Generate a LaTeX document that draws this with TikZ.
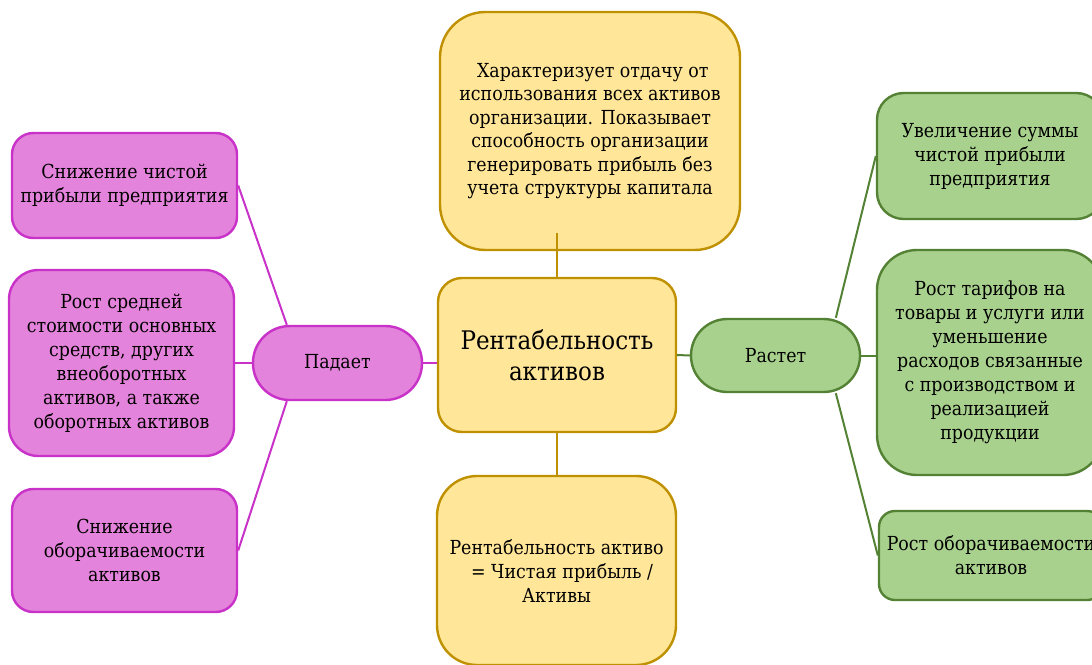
\documentclass[tikz,border=0pt]{standalone}
\usepackage{fontspec}
\IfFontExistsTF{DejaVu Serif Condensed}
  {\setmainfont{DejaVu Serif Condensed}\def\fs{14.5}\def\fc{19.2}}
  {\setmainfont{DejaVu Serif}\def\fs{13.5}\def\fc{18}}
\definecolor{pinkfill}{RGB}{228,131,219}
\definecolor{pinkline}{RGB}{200,50,200}
\definecolor{yelfill}{RGB}{255,230,153}
\definecolor{yelline}{RGB}{191,144,0}
\definecolor{grnfill}{RGB}{169,209,142}
\definecolor{grnline}{RGB}{84,130,53}
\begin{document}
\begin{tikzpicture}[x=0.75pt,y=-0.75pt,
  box/.style={draw, line width=1.8pt, align=center, inner sep=0pt,
    font=\rmfamily\fontsize{\fs}{18}\selectfont},
  pinkbox/.style={box, fill=pinkfill, draw=pinkline},
  yelbox/.style={box, fill=yelfill, draw=yelline},
  grnbox/.style={box, fill=grnfill, draw=grnline},
  pinkline/.style={draw=pinkline, line width=1.5pt},
  yelline/.style={draw=yelline, line width=1.5pt},
  grnline/.style={draw=grnline, line width=1.5pt}]
\useasboundingbox (0,0) rectangle (1092,664);
% left
\node[pinkbox, minimum width=168.75pt, minimum height=78.75pt, rounded corners=16pt] (l1) at (124.5,185.5) {Снижение чистой\\прибыли предприятия};
\node[pinkbox, minimum width=168.75pt, minimum height=139.5pt, rounded corners=22pt] (l2) at (121.5,363) {Рост средней\\стоимости основных\\средств, других\\внеоборотных\\активов, а также\\оборотных активов};
\node[pinkbox, minimum width=168.75pt, minimum height=92.25pt, rounded corners=16pt] (l3) at (124.5,550.5) {Снижение\\оборачиваемости\\активов};
\node[pinkbox, minimum width=126.75pt, minimum height=55.5pt, rounded corners=27.5pt] (pad) at (337.5,363) {Падает};
% center
\node[yelbox, minimum width=178.5pt, minimum height=115.5pt, rounded corners=18pt, font=\rmfamily\fontsize{\fc}{23.5}\selectfont] (ctr) at (557,355) {Рентабельность\\активов};
\node[yelbox, minimum width=225pt, minimum height=178.5pt, rounded corners=34pt, font=\rmfamily\fontsize{\fs}{17.6}\selectfont] (top) at (590,131) {\ Характеризует отдачу от\\использования всех активов\\организации. Показывает\\способность организации\\генерировать прибыль без\\учета структуры капитала};
\node[yelbox, minimum width=179.25pt, minimum height=141.75pt, rounded corners=30pt] (bot) at (556.5,570.5) {Рентабельность активо\\\ \ = Чистая прибыль /\\Активы};
% right
\node[grnbox, minimum width=126.75pt, minimum height=54.75pt, rounded corners=27.3pt] (ras) at (775.5,355.5) {Растет};
\node[grnbox, minimum width=169.5pt, minimum height=94.5pt, rounded corners=20pt] (r1) at (990,156) {Увеличение суммы\\чистой прибыли\\предприятия};
\node[grnbox, minimum width=169.5pt, minimum height=168.75pt, rounded corners=30pt] (r2) at (990,362.5) {Рост тарифов на\\товары и услуги или\\уменьшение\\расходов связанные\\с производством и\\реализацией\\продукции};
\node[grnbox, minimum width=168pt, minimum height=66.75pt, rounded corners=12pt] (r3) at (991,555.5) {Рост оборачиваемости\\активов};
% connectors
\coordinate (tk) at (557,233);
\path[pinkline] (l1.east) -- (pad.143);
\path[pinkline] (l2.east) -- (pad.west);
\path[pinkline] (l3.east) -- (pad.217);
\path[pinkline] (pad.east) -- (ctr.west |- pad.east);
\path[yelline] (tk) -- (ctr.north);
\path[yelline] (ctr.south) -- (ctr.south |- bot.north);
\path[grnline] (ctr.east) -- (ras.west);
\path[grnline] (ras.32) -- (r1.west);
\path[grnline] (ras.east) -- (r2.west |- ras.east);
\path[grnline] (ras.328) -- (r3.west);
\end{tikzpicture}
\end{document}
